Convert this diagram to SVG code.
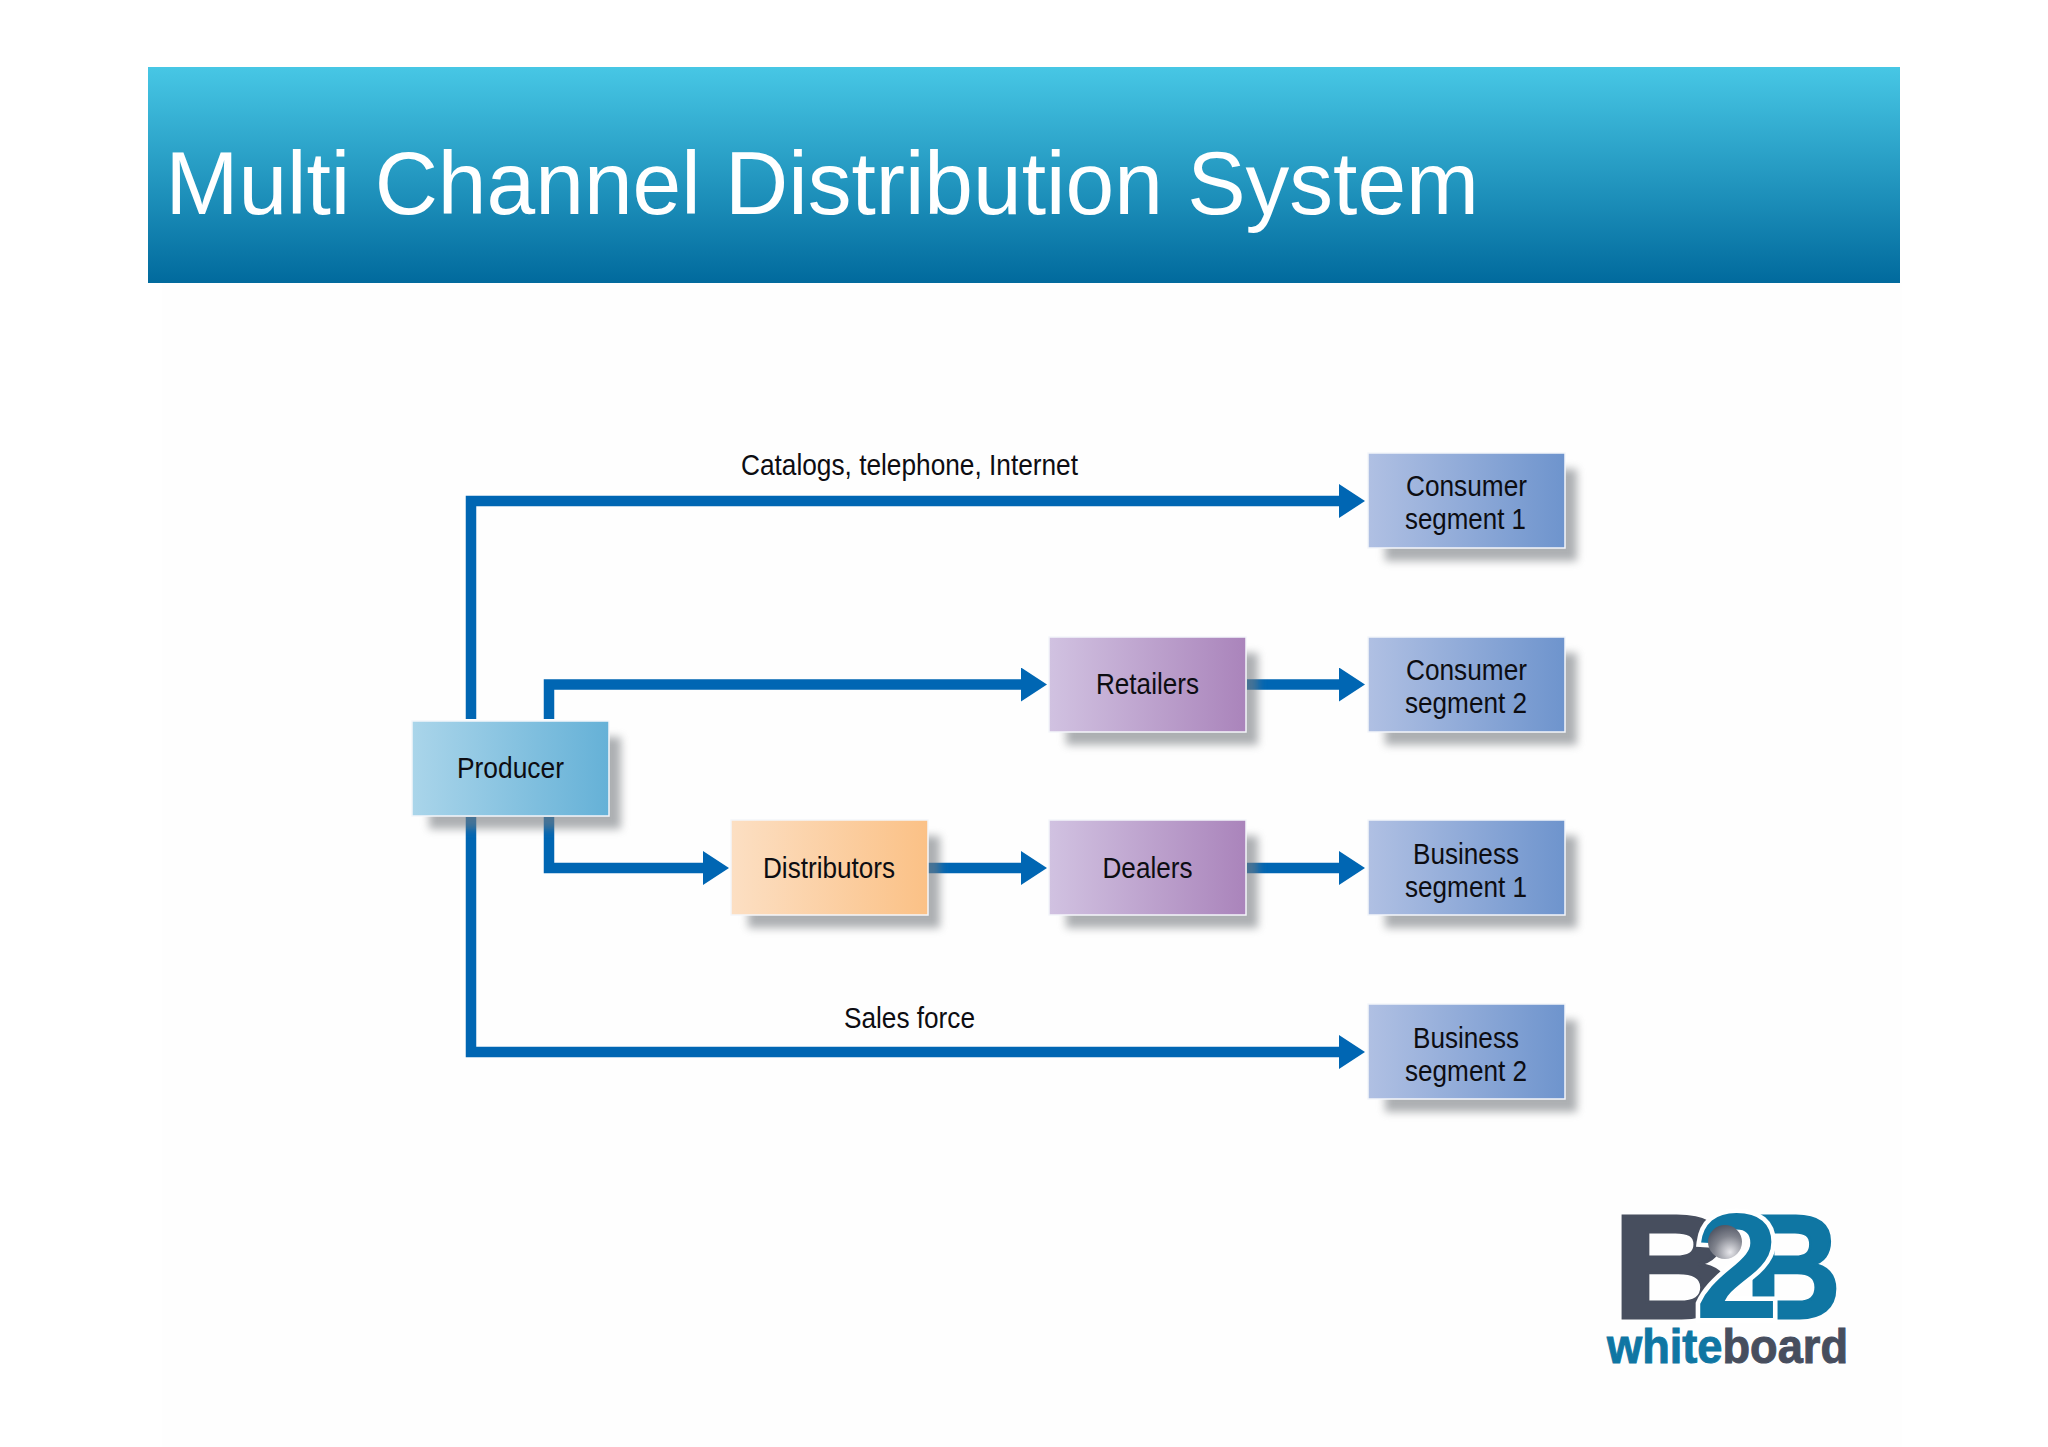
<svg xmlns="http://www.w3.org/2000/svg" width="2048" height="1447" viewBox="0 0 2048 1447">
<style>
text{font-family:"Liberation Sans",Arial,sans-serif;fill:#0d0d12}
.l{font-size:29px;text-anchor:start}
.box{stroke:#f4f6fa;stroke-width:1.500}
.sh{fill:#777b80;opacity:.6;filter:url(#blur)}
.c{fill:none;stroke:#0066b3;stroke-width:10.500;stroke-linejoin:miter;marker-end:url(#arrow)}
</style>
<defs>
<linearGradient id="ban" x1="0" y1="0" x2="0" y2="1"><stop offset="0" stop-color="#47c7e5"/><stop offset="1" stop-color="#016a9d"/></linearGradient>
<linearGradient id="gp" x1="0" x2="1" y1="0" y2="0"><stop offset="0" stop-color="#aad5ea"/><stop offset="1" stop-color="#65b1d7"/></linearGradient>
<linearGradient id="gb" x1="0" x2="1" y1="0" y2="0"><stop offset="0" stop-color="#b0c0e3"/><stop offset="1" stop-color="#6e94cd"/></linearGradient>
<linearGradient id="gv" x1="0" x2="1" y1="0" y2="0"><stop offset="0" stop-color="#d1c2e1"/><stop offset="1" stop-color="#aa84bb"/></linearGradient>
<linearGradient id="go" x1="0" x2="1" y1="0" y2="0"><stop offset="0" stop-color="#fcdfc3"/><stop offset="1" stop-color="#fbc186"/></linearGradient>
<radialGradient id="ball" cx=".65" cy=".8" r=".95"><stop offset="0" stop-color="#e8e8ec"/><stop offset=".5" stop-color="#80838d"/><stop offset="1" stop-color="#3f4555"/></radialGradient>
<filter id="blur" x="-20%" y="-20%" width="140%" height="140%"><feGaussianBlur stdDeviation="4.500"/></filter>
<marker id="arrow" markerUnits="userSpaceOnUse" markerWidth="27" markerHeight="34" refX="0" refY="17" orient="auto"><path d="M0 0L26 17L0 34Z" fill="#0066b3"/></marker>
</defs>
<rect width="2048" height="1447" fill="#fff"/>
<rect x="162" y="282" width="1740" height="1165" fill="#fefefe"/>
<g id="banner">
<rect x="148" y="67" width="1752" height="216" fill="url(#ban)"/>
<text x="165.500" y="214" font-size="89" style="fill:#fff" textLength="1313.500" lengthAdjust="spacingAndGlyphs">Multi Channel Distribution System</text>
</g>
<g id="connectors">
<path class="c" d="M471 719V501H1339"/>
<path class="c" d="M549 719V684.500H1021"/>
<path class="c" d="M549 817V868H703"/>
<path class="c" d="M471 817V1052H1339"/>
<path class="c" d="M1247 684.500H1339"/>
<path class="c" d="M928 868H1021"/>
<path class="c" d="M1247 868H1339"/>
</g>
<g id="label-catalogs"><text class="l" x="741" y="475" textLength="337" lengthAdjust="spacingAndGlyphs">Catalogs, telephone, Internet</text></g>
<g id="label-sales"><text class="l" x="844" y="1028" textLength="131" lengthAdjust="spacingAndGlyphs">Sales force</text></g>
<g id="producer">
<rect class="sh" x="429" y="737" width="192" height="92"/>
<rect class="box" x="412" y="721" width="197" height="95" fill="url(#gp)"/>
<text class="l" x="457" y="778" textLength="107" lengthAdjust="spacingAndGlyphs">Producer</text>
</g>
<g id="consumer1">
<rect class="sh" x="1385" y="469" width="192" height="92"/>
<rect class="box" x="1368" y="453" width="197" height="95" fill="url(#gb)"/>
<text class="l" x="1406" y="496" textLength="121" lengthAdjust="spacingAndGlyphs">Consumer</text>
<text class="l" x="1405" y="529" textLength="121" lengthAdjust="spacingAndGlyphs">segment 1</text>
</g>
<g id="retailers">
<rect class="sh" x="1066" y="653" width="192" height="92"/>
<rect class="box" x="1049" y="637" width="197" height="95" fill="url(#gv)"/>
<text class="l" x="1096" y="694" textLength="103" lengthAdjust="spacingAndGlyphs">Retailers</text>
</g>
<g id="consumer2">
<rect class="sh" x="1385" y="653" width="192" height="92"/>
<rect class="box" x="1368" y="637" width="197" height="95" fill="url(#gb)"/>
<text class="l" x="1406" y="680" textLength="121" lengthAdjust="spacingAndGlyphs">Consumer</text>
<text class="l" x="1405" y="713" textLength="122" lengthAdjust="spacingAndGlyphs">segment 2</text>
</g>
<g id="distributors">
<rect class="sh" x="748" y="836" width="192" height="92"/>
<rect class="box" x="731" y="820" width="197" height="95" fill="url(#go)"/>
<text class="l" x="763" y="878" textLength="132" lengthAdjust="spacingAndGlyphs">Distributors</text>
</g>
<g id="dealers">
<rect class="sh" x="1066" y="836" width="192" height="92"/>
<rect class="box" x="1049" y="820" width="197" height="95" fill="url(#gv)"/>
<text class="l" x="1102.500" y="878" textLength="90" lengthAdjust="spacingAndGlyphs">Dealers</text>
</g>
<g id="business1">
<rect class="sh" x="1385" y="836" width="192" height="92"/>
<rect class="box" x="1368" y="820" width="197" height="95" fill="url(#gb)"/>
<text class="l" x="1413" y="864" textLength="106" lengthAdjust="spacingAndGlyphs">Business</text>
<text class="l" x="1405" y="897" textLength="122" lengthAdjust="spacingAndGlyphs">segment 1</text>
</g>
<g id="business2">
<rect class="sh" x="1385" y="1020" width="192" height="92"/>
<rect class="box" x="1368" y="1004" width="197" height="95" fill="url(#gb)"/>
<text class="l" x="1413" y="1048" textLength="106" lengthAdjust="spacingAndGlyphs">Business</text>
<text class="l" x="1405" y="1081" textLength="122" lengthAdjust="spacingAndGlyphs">segment 2</text>
</g>
<g id="logo">
<text x="1612" y="1318" font-size="148" font-weight="700" style="fill:#474e5e;stroke:#474e5e;stroke-width:3" textLength="122" lengthAdjust="spacingAndGlyphs">B</text>
<text x="1745" y="1318" font-size="148" font-weight="700" style="fill:#0f76a3;stroke:#0f76a3;stroke-width:3" textLength="96" lengthAdjust="spacingAndGlyphs">B</text>
<text x="1695" y="1318" font-size="150" font-weight="700" style="fill:#0f76a3;stroke:#fff;stroke-width:9;paint-order:stroke" textLength="84" lengthAdjust="spacingAndGlyphs">2</text>
<circle cx="1725" cy="1242" r="17" fill="url(#ball)"/>
<text x="1607" y="1363" font-size="49" font-weight="700" textLength="241" lengthAdjust="spacingAndGlyphs" style="fill:#0f76a3;stroke:#0f76a3;stroke-width:1"><tspan>white</tspan><tspan style="fill:#474e5e;stroke:#474e5e">board</tspan></text>
</g>
</svg>
